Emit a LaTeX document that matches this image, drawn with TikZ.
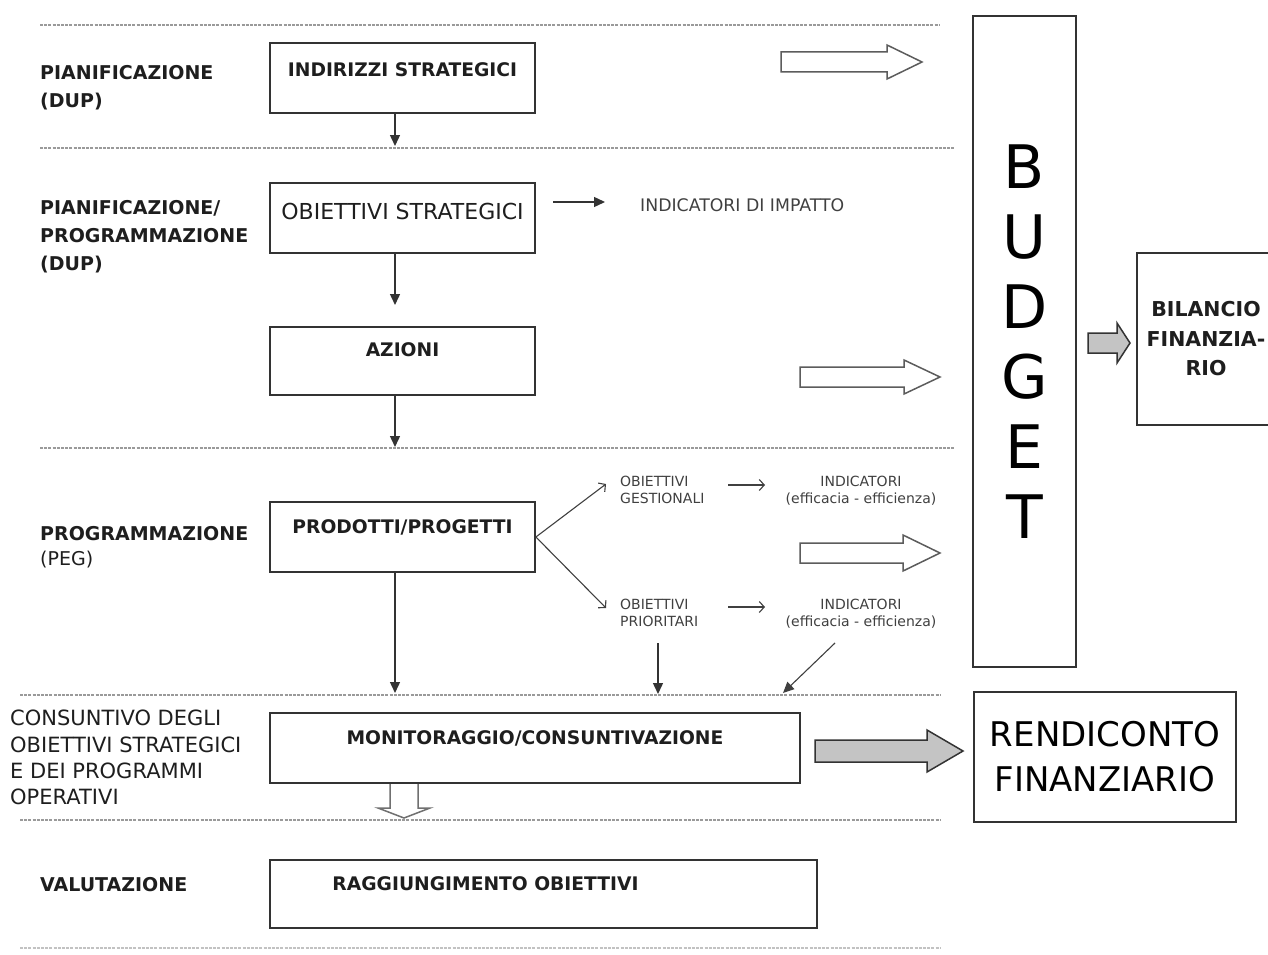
\documentclass[tikz,border=0pt]{standalone}
\usepackage{fontspec}
\setmainfont{DejaVu Sans}
\usetikzlibrary{arrows.meta}
\definecolor{ln}{HTML}{333333}
\definecolor{txt}{HTML}{1E1E1E}
\definecolor{sm}{HTML}{404040}
\definecolor{dl}{HTML}{9A9A9A}
\definecolor{gfill}{HTML}{C4C4C4}
% horizontal block arrow: x1, x2, yc, shaft half, head half, head length, style
\newcommand{\hblk}[7]{\draw[#7] ({#1},{#3-#4}) -- ({#2-#6},{#3-#4}) -- ({#2-#6},{#3-#5}) -- ({#2},{#3}) -- ({#2-#6},{#3+#5}) -- ({#2-#6},{#3+#4}) -- ({#1},{#3+#4}) -- cycle;}
% vertical block arrow: xc, y1, y2, shaft half, head half, head length, style
\newcommand{\vblk}[7]{\draw[#7] ({#1-#4},{#2}) -- ({#1-#4},{#3-#6}) -- ({#1-#5},{#3-#6}) -- ({#1},{#3}) -- ({#1+#5},{#3-#6}) -- ({#1+#4},{#3-#6}) -- ({#1+#4},{#2});}
\begin{document}
\begin{tikzpicture}[x=1pt,y=-1pt,
  sepline/.style={draw=dl, line width=1.2pt, dash pattern=on 3pt off 1.2pt},
  box/.style={draw=ln, line width=1.8pt, minimum width=265pt, minimum height=70pt, inner sep=0pt},
  btxt/.style={text=txt, font=\bfseries\fontsize{18.7}{22}\selectfont, inner sep=0pt},
  lab/.style={text=txt, font=\bfseries\fontsize{19}{28}\selectfont, anchor=north west, align=left, inner sep=0pt},
  small/.style={text=sm, font=\fontsize{14}{17}\selectfont, anchor=north west, align=left, inner sep=0pt},
  smallc/.style={small, anchor=north, align=center},
  arr/.style={draw=ln, line width=1.4pt, -{Triangle[length=11pt,width=10pt]}},
  thin/.style={draw=sm, line width=1.1pt, -{Straight Barb[length=5pt,width=11pt]}},
  white arrow/.style={draw=ln!80, line width=1.5pt, fill=white},
  gray arrow/.style={draw=ln, line width=1.5pt, fill=gfill},
]
\useasboundingbox (0,0) rectangle (1268,955);
\fill[white] (0,0) rectangle (1268,955);

% separator lines
\draw[sepline] (40,25) -- (940,25);
\draw[sepline] (40,148) -- (955,148);
\draw[sepline] (40,448) -- (955,448);
\draw[sepline] (20,695) -- (940,695);
\draw[sepline] (20,820) -- (940,820);
\draw[sepline, draw=dl!60] (20,948) -- (940,948);

% left labels
\node[lab] (l1) at (40,65) {PIANIFICAZIONE\\(DUP)};
\node[lab] (l2) at (40,200) {PIANIFICAZIONE/\\PROGRAMMAZIONE\\(DUP)};
\node[lab, font=\bfseries\fontsize{19}{25}\selectfont] (l3) at (40,526) {PROGRAMMAZIONE\\{\mdseries (PEG)}};
\node[lab, font=\fontsize{21}{26.3}\selectfont] (l4) at (10,710) {CONSUNTIVO DEGLI\\OBIETTIVI STRATEGICI\\E DEI PROGRAMMI\\OPERATIVI};
\node[lab] (l5) at (40,877) {VALUTAZIONE};

% main boxes
\node[box, label={[btxt, yshift=8pt]center:INDIRIZZI STRATEGICI}] (ind) at (402.5,78) {};
\node[box, label={[btxt, font=\fontsize{22}{24}\selectfont, yshift=7pt]center:OBIETTIVI STRATEGICI}] (obs) at (402.5,218) {};
\node[box, minimum height=68pt, label={[btxt, yshift=11pt]center:AZIONI}] (azi) at (402.5,361) {};
\node[box, label={[btxt, yshift=10pt]center:PRODOTTI/PROGETTI}] (pro) at (402.5,537) {};
\node[box, minimum width=530pt, label={[btxt, yshift=10pt]center:MONITORAGGIO/CONSUNTIVAZIONE}] (mon) at (535,748) {};
\node[box, minimum width=547pt, minimum height=68pt, label={[btxt, yshift=10pt, xshift=-58pt]center:RAGGIUNGIMENTO OBIETTIVI}] (rag) at (543.5,894) {};

% right boxes
\node[box, minimum width=103pt, minimum height=651pt, align=center, text=black, font=\fontsize{60}{70}\selectfont] (bud) at (1024.5,341.5) {B\\U\\D\\G\\E\\T};
\node[box, minimum width=138pt, minimum height=172pt, align=center, text=txt, font=\bfseries\fontsize{20.5}{29.5}\selectfont] (bil) at (1206,339) {BILANCIO\\FINANZIA-\\RIO};
\node[box, minimum width=262pt, minimum height=130pt, align=center, text=black, font=\fontsize{34}{45}\selectfont] (ren) at (1105,757) {RENDICONTO\\FINANZIARIO};

% texts on the right side
\node[text=sm, font=\fontsize{17.3}{20}\selectfont, anchor=west, inner sep=0pt] (imp) at (640,205) {INDICATORI DI IMPATTO};
\node[small] (og) at (620,476) {OBIETTIVI\\GESTIONALI};
\node[smallc] (ig) at (861,476) {INDICATORI\\(efficacia - efficienza)};
\node[small] (op) at (620,599) {OBIETTIVI\\PRIORITARI};
\node[smallc] (ip) at (861,599) {INDICATORI\\(efficacia - efficienza)};

% vertical flow arrows
\coordinate (e1) at (395,146);
\coordinate (e2) at (395,305);
\coordinate (e3) at (395,447);
\coordinate (e4) at (395,693);
\draw[arr] (e1 |- ind.south) -- (e1);
\draw[arr] (e2 |- obs.south) -- (e2);
\draw[arr] (e3 |- azi.south) -- (e3);
\draw[arr] (e4 |- pro.south) -- (e4);

% obiettivi strategici -> indicatori di impatto
\coordinate (s5) at (553,202);
\coordinate (e5) at (605,202);
\draw[arr] (s5) -- (e5);

% branches from prodotti/progetti
\coordinate (b1) at (606,484);
\coordinate (b2) at (606,608);
\draw[thin] (pro.east) -- (b1);
\draw[thin] (pro.east) -- (b2);
\coordinate (g1) at (728,485);
\coordinate (g2) at (765,485);
\draw[thin] (g1) -- (g2);
\coordinate (p1) at (728,607);
\coordinate (p2) at (765,607);
\draw[thin] (p1) -- (p2);

% arrows down to monitoraggio line
\coordinate (o1) at (658,643);
\coordinate (o2) at (658,694);
\draw[arr] (o1) -- (o2);
\coordinate (i1) at (835,643);
\coordinate (i2) at (783,693);
\draw[draw=sm, line width=1.1pt, -{Triangle[length=11pt,width=10pt]}] (i1) -- (i2);

% block arrows
\hblk{781}{922}{62}{10}{17}{35}{white arrow}
\hblk{800}{940}{377}{10}{17}{36}{white arrow}
\hblk{800}{940}{553}{10}{18}{37}{white arrow}
\hblk{1088}{1130}{343}{10}{20}{13}{gray arrow}
\hblk{815}{963}{751}{11}{21}{36}{gray arrow}
\vblk{404}{784}{818}{14}{26}{10}{white arrow, fill=none, draw=ln!70}
\end{tikzpicture}
\end{document}
